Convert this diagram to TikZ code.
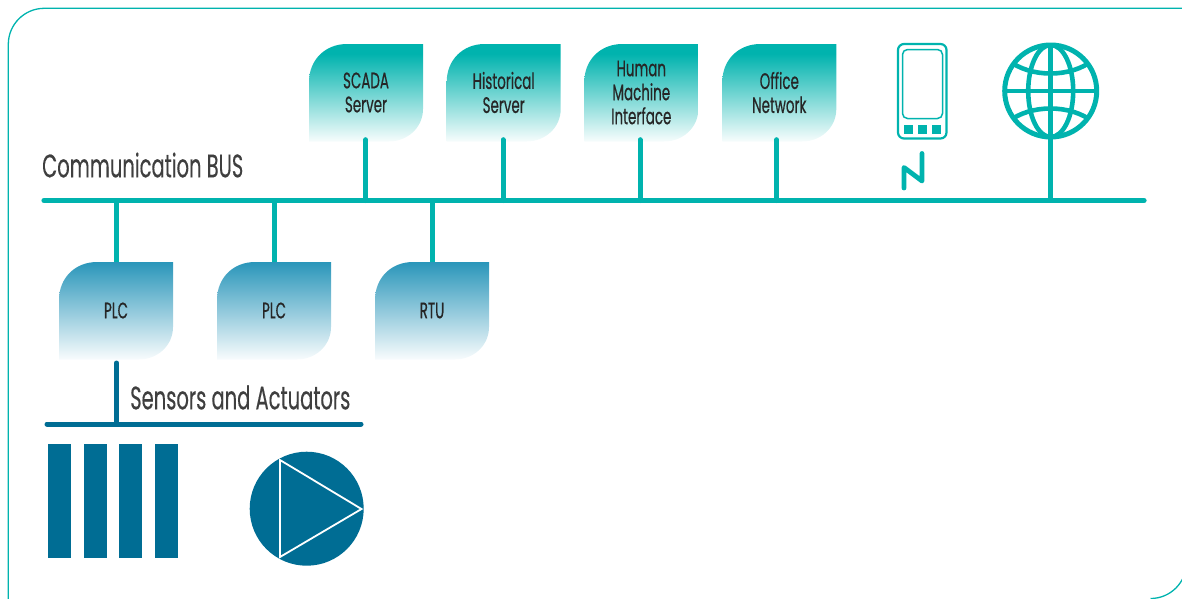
\documentclass[tikz,border=0pt]{standalone}
\usepackage{fontspec}
\setmainfont{Poppins}[FakeStretch=0.6,FakeBold=0.25]
\newfontface\boxfont{Poppins}[FakeStretch=0.6,FakeBold=0.5]
\usetikzlibrary{calc}
\definecolor{tealc}{HTML}{00B3AE}
\definecolor{bluec}{HTML}{006D94}
\definecolor{bluet}{HTML}{2A96BA}
\definecolor{labelc}{HTML}{3F3F3F}
\definecolor{boxtext}{HTML}{262626}
\pgfdeclareverticalshading{tealfade}{100bp}{color(0bp)=(tealc!3!white);color(25bp)=(tealc!3!white);color(70bp)=(tealc);color(100bp)=(tealc)}
\pgfdeclareverticalshading{bluefade}{100bp}{color(0bp)=(bluet!3!white);color(25bp)=(bluet!3!white);color(75bp)=(bluet);color(100bp)=(bluet)}
\tikzset{
  x=1pt,y=-1pt,
  framelines/.style={draw=tealc,line width=1.3pt},
  busline/.style={line width=5.2pt,color=tealc},
  stub/.style={line width=5pt,color=tealc},
  bluebus/.style={line width=5pt,color=bluec},
  devtext/.style={font=\boxfont\fontsize{22.4}{24}\selectfont,text=boxtext,align=center,inner sep=0pt,minimum width=114pt,minimum height=97pt},
  biglabel/.style={font=\fontsize{32.5}{36}\selectfont,text=labelc,inner sep=0pt,anchor=base west},
  bar/.style={fill=bluec,draw=none},
  phoneline/.style={draw=tealc,fill=none},
}
\newcommand{\devbox}[5]{%
  \path[shading=#4,shading angle=0] (#2,#3+38) .. controls (#2,#3+16) and (#2+16,#3) .. (#2+38,#3) -- (#2+114,#3) -- (#2+114,#3+65) .. controls (#2+114,#3+84) and (#2+98,#3+97.5) .. (#2+80,#3+97.5) -- (#2,#3+97.5) -- cycle;
  \node[devtext] (#1) at (#2+57,#3+48.5) {#5};}
\begin{document}
\begin{tikzpicture}
\useasboundingbox (0,0) rectangle (1182,598);
\begin{scope}
\clip (0,0) rectangle (1182,598);
\draw[framelines,rounded corners=36pt] (8.3,610) -- (8.3,8.3) -- (1200,8.3);
\draw[framelines] (1150.5,598.5) .. controls (1170.4,598.5) and (1186.5,582.4) .. (1186.5,562.5);
\end{scope}
% bus coordinates
\coordinate (busL) at (44,200.5);
\coordinate (busR) at (1144,200.5);
% upper devices
\devbox{scada}{309}{44}{tealfade}{SCADA\\Server}
\devbox{hist}{446.7}{44}{tealfade}{Historical\\Server}
\devbox{hmi}{584.3}{44}{tealfade}{Human\\Machine\\Interface}
\devbox{office}{722.3}{44}{tealfade}{Office\\Network}
% lower devices
\devbox{plca}{59}{262}{bluefade}{PLC}
\devbox{plcb}{217}{262}{bluefade}{PLC}
\devbox{rtu}{375}{262}{bluefade}{RTU}
% bus
\draw[busline,line cap=round] (busL) -- (busR);
\foreach \n/\d in {scada/-0.3,hist/-0.7,hmi/-1.3,office/-2.6}{
  \draw[stub,line cap=round] ($(\n.south)+(\d,-1.5)$) -- ($(\n.south |- busL)+(\d,0)$);
}
\foreach \n in {plca,plcb,rtu}{
  \draw[stub] (\n.north |- busL) -- (\n.north);
}
\node[biglabel] (comm) at (42,177.3) {Communication BUS};
% sensors bus
\coordinate (sL) at (47,424);
\coordinate (sR) at (361,424);
\draw[bluebus,line cap=round] (sL) -- (sR);
\coordinate (plcout) at (116.5,363);
\draw[bluebus,line cap=round] (plcout) -- (plcout |- sL);
\node[biglabel] (sens) at (130,409.3) {Sensors and Actuators};
% sensor bars
\foreach \xa in {48,84,119,155}{
  \fill[bar] (\xa,444) rectangle (\xa+23,558);
}
% pump
\fill[bluec] (306.7,508.7) circle[radius=57];
\draw[white,line width=1.8pt,line join=miter] (280,460) -- (361.5,509) -- (280,557) -- cycle;
% phone
\draw[phoneline,line width=2.2pt,rounded corners=6pt] (898,44) rectangle (946.5,138.5);
\draw[phoneline,line width=1.5pt,rounded corners=5pt] (902.5,49.5) rectangle (942.5,118.5);
\foreach \xa in {904,918,932}{
  \fill[tealc] (\xa,125) rectangle (\xa+9,134);
}
\coordinate (z1) at (904,188);
\coordinate (z2) at (904,167.5);
\coordinate (z3) at (922,181);
\coordinate (z4) at (922,153.5);
\draw[tealc,line width=4.8pt,line cap=round,line join=round] (z1) -- (z2) -- (z3) -- (z4);
% globe
\coordinate (gc) at (1050.7,91);
\draw[tealc,line width=5pt] (gc) circle[radius=46];
\begin{scope}
\clip (gc) circle[radius=46];
\draw[tealc,line width=4.6pt] (gc) ellipse[x radius=22.5,y radius=46];
\draw[tealc,line width=4.6pt] (1004,91) -- (1097,91);
\draw[tealc,line width=4.6pt] (1008,60) .. controls (1030,78) and (1071,78) .. (1093,60);
\draw[tealc,line width=4.6pt] (1008,122) .. controls (1030,104) and (1071,104) .. (1093,122);
\end{scope}
\draw[stub] (1050.7,43) -- (gc |- busL);
\end{tikzpicture}
\end{document}
